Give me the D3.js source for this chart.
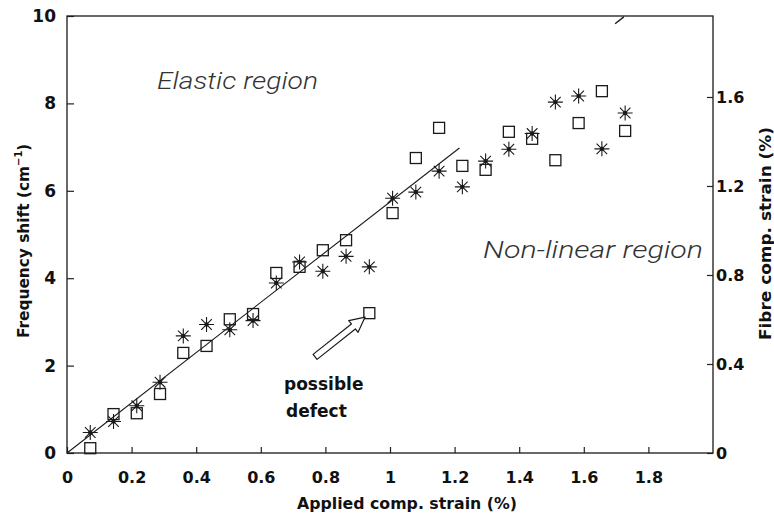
<!DOCTYPE html>
<html>
<head>
<meta charset="utf-8">
<script src="https://cdn.jsdelivr.net/npm/d3@7"></script>
<style>
  body { margin: 0; background: #fff; }
  svg { display: block; }
  .tick text { font-family: "DejaVu Sans", sans-serif; font-weight: bold; font-size: 16px; fill: #111; }
  .tick line { stroke: #222; stroke-width: 1.2; }
</style>
</head>
<body>
<svg width="774" height="515"></svg>
<script>
// strain steps (applied comp. strain, %)
var strain = [0.072, 0.144, 0.216, 0.288, 0.36, 0.432, 0.504, 0.576, 0.648, 0.72, 0.792, 0.864,
              0.936, 1.008, 1.08, 1.152, 1.224, 1.296, 1.368, 1.44, 1.512, 1.584, 1.656, 1.728];
// frequency shift, star series
var starShift = [0.47, 0.72, 1.08, 1.62, 2.68, 2.94, 2.82, 3.03, 3.89, 4.37, 4.16, 4.50,
                 4.26, 5.83, 5.97, 6.45, 6.09, 6.68, 6.95, 7.31, 8.03, 8.17, 6.96, 7.78];
// frequency shift, square series
var squareShift = [0.11, 0.89, 0.91, 1.35, 2.29, 2.45, 3.06, 3.18, 4.12, 4.26, 4.64, 4.87,
                   3.20, 5.49, 6.75, 7.44, 6.57, 6.48, 7.35, 7.19, 6.70, 7.55, 8.28, 7.37];
// linear fit over the elastic region
var fitLine = [[0, 0], [1.215, 6.98]];
// small stray mark on the top border
var topMark = [[1.697, 9.82], [1.724, 9.98]];
// arrow pointing at the possible defect: tail, tip
var arrowPts = [[0.768, 2.20], [0.923, 3.11]];

var xTicks = [0, 0.2, 0.4, 0.6, 0.8, 1, 1.2, 1.4, 1.6, 1.8];
var yTicks = [0, 2, 4, 6, 8, 10];
var yRightTicks = [0, 0.4, 0.8, 1.2, 1.6];

var svg = d3.select('svg');
var ink = '#1a1a1a';

var x = d3.scaleLinear().domain([0, 2]).range([67, 713]);
var y = d3.scaleLinear().domain([0, 10]).range([453, 16]);
var yR = d3.scaleLinear().domain([0, 1.964]).range([453, 16]);

//axes with ticks pointing inward
var gx = svg.append('g').attr('transform', 'translate(0,453)')
  .call(d3.axisBottom(x).tickValues(xTicks).tickFormat(d3.format('~g'))
        .tickSizeInner(-6).tickSizeOuter(0).tickPadding(19));
var gy = svg.append('g').attr('transform', 'translate(67,0)')
  .call(d3.axisLeft(y).tickValues(yTicks).tickFormat(d3.format('~g'))
        .tickSizeInner(-7).tickSizeOuter(0).tickPadding(11));
var gr = svg.append('g').attr('transform', 'translate(713,0)')
  .call(d3.axisRight(yR).tickValues(yRightTicks).tickFormat(d3.format('~g'))
        .tickSizeInner(-6).tickSizeOuter(0).tickPadding(3));
[gx, gy, gr].forEach(function(g){ g.select('.domain').remove(); });
gy.selectAll('.tick text').style('font-size', '17px');

// frame
svg.append('rect')
  .attr('x', x(0)).attr('y', y(10))
  .attr('width', x(2) - x(0)).attr('height', y(0) - y(10))
  .attr('fill', 'none').attr('stroke', ink).attr('stroke-width', 1.3);

var line = d3.line().x(function(d){return x(d[0])}).y(function(d){return y(d[1])});
svg.append('path').attr('d', line(fitLine))
  .attr('fill', 'none').attr('stroke', ink).attr('stroke-width', 1.1);
svg.append('path').attr('d', line(topMark))
  .attr('fill', 'none').attr('stroke', ink).attr('stroke-width', 1.3);

// squares
var sq = 11;
svg.append('g').selectAll('rect')
  .data(strain.map(function(s, i){ return [s, squareShift[i]]; }))
  .enter().append('rect')
  .attr('x', function(d){return x(d[0]) - sq / 2})
  .attr('y', function(d){return y(d[1]) - sq / 2})
  .attr('width', sq).attr('height', sq)
  .attr('fill', 'none').attr('stroke', ink).attr('stroke-width', 1.3);

// asterisks
var r = 7.5, rd = r * Math.SQRT1_2;
var stars = svg.append('g').selectAll('g')
  .data(strain.map(function(s, i){ return [s, starShift[i]]; }))
  .enter().append('g')
  .attr('transform', function(d){return 'translate(' + x(d[0]) + ',' + y(d[1]) + ')'});
stars.append('path')
  .attr('d', 'M' + (-r) + ',0H' + r + 'M0,' + (-r) + 'V' + r +
             'M' + (-rd) + ',' + (-rd) + 'L' + rd + ',' + rd +
             'M' + (-rd) + ',' + rd + 'L' + rd + ',' + (-rd))
  .attr('stroke', ink).attr('stroke-width', 1.1).attr('fill', 'none');
stars.append('circle').attr('r', 2.2).attr('fill', ink);

// hollow arrow
(function(){
  var t0 = [x(arrowPts[0][0]), y(arrowPts[0][1])];
  var t1 = [x(arrowPts[1][0]), y(arrowPts[1][1])];
  var dx = t1[0] - t0[0], dy = t1[1] - t0[1];
  var len = Math.sqrt(dx * dx + dy * dy);
  var u = [dx / len, dy / len], n = [-u[1], u[0]];
  var w = 3.2, hw = 7.5, hl = 15;
  var neck = [t1[0] - u[0] * hl, t1[1] - u[1] * hl];
  function p(b, s){ return [b[0] + n[0] * s, b[1] + n[1] * s]; }
  var pts = [p(t0, w), p(neck, w), p(neck, hw), t1, p(neck, -hw), p(neck, -w), p(t0, -w)];
  svg.append('path').attr('d', d3.line()(pts) + 'Z')
    .attr('fill', '#fff').attr('stroke', ink).attr('stroke-width', 1.2)
    .attr('stroke-linejoin', 'round');
})();

// region labels
svg.append('text').text('Elastic region')
  .attr('x', 157).attr('y', 89).attr('textLength', 161).attr('lengthAdjust', 'spacingAndGlyphs')
  .style('font-family', 'Roboto, "Open Sans", sans-serif').style('font-weight', 300)
  .style('font-style', 'italic').style('font-size', '24px').attr('fill', '#333');
svg.append('text').text('Non-linear region')
  .attr('x', 483).attr('y', 258).attr('textLength', 220).attr('lengthAdjust', 'spacingAndGlyphs')
  .style('font-family', 'Roboto, "Open Sans", sans-serif').style('font-weight', 300)
  .style('font-style', 'italic').style('font-size', '24px').attr('fill', '#333');

// possible defect note
var note = svg.append('text')
  .style('font-family', '"DejaVu Sans", sans-serif').style('font-weight', 'bold')
  .style('font-size', '17px').attr('fill', '#111');
note.append('tspan').attr('x', 284).attr('y', 390).text('possible');
note.append('tspan').attr('x', 286).attr('y', 417).text('defect');

// axis titles
var titleFont = '"DejaVu Sans", sans-serif';
svg.append('text').text('Applied comp. strain (%)')
  .attr('x', 297).attr('y', 509).attr('textLength', 220).attr('lengthAdjust', 'spacingAndGlyphs')
  .style('font-family', titleFont).style('font-weight', 'bold').style('font-size', '15px').attr('fill', '#111');

var lt = svg.append('text').attr('transform', 'translate(29,338) rotate(-90)')
  .style('font-family', titleFont).style('font-weight', 'bold').style('font-size', '15px').attr('fill', '#111');
lt.append('tspan').text('Frequency shift (cm').attr('textLength', 172).attr('lengthAdjust', 'spacingAndGlyphs');
lt.append('tspan').text('\u22121').attr('dy', -7).style('font-size', '10px');
lt.append('tspan').text(')').attr('dy', 7);

svg.append('text').text('Fibre comp. strain (%)')
  .attr('transform', 'translate(771,340) rotate(-90)')
  .attr('textLength', 213).attr('lengthAdjust', 'spacingAndGlyphs')
  .style('font-family', titleFont).style('font-weight', 'bold').style('font-size', '15px').attr('fill', '#111');
</script>
</body>
</html>
